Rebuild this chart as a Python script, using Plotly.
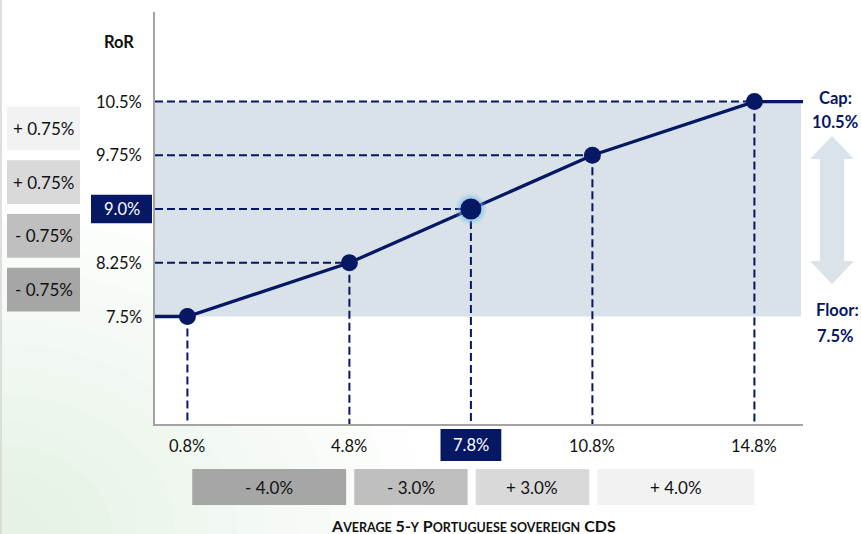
import plotly.graph_objects as go

# Average 5-y Portuguese sovereign CDS (%) and the resulting rate of return (%)
cds = [0.8, 4.8, 7.8, 10.8, 14.8]
ror = [7.5, 8.25, 9.0, 9.75, 10.5]
cds_labels = ["0.8%", "4.8%", "7.8%", "10.8%", "14.8%"]
ror_labels = ["7.5%", "8.25%", "9.0%", "9.75%", "10.5%"]
base_index = 2  # central scenario (7.8% CDS -> 9.0% RoR)

# Step sizes between neighbouring scenarios
cds_steps = ["- 4.0%", "- 3.0%", "+ 3.0%", "+ 4.0%"]
ror_steps = ["- 0.75%", "- 0.75%", "+ 0.75%", "+ 0.75%"]
step_fills = ["#A6A6A6", "#BFBFBF", "#D9D9D9", "#F2F2F2"]

cap, floor = ror[-1], ror[0]
x_range = [0, 16]
y_range = [6, 11.75]

NAVY = "#061763"
FONT = "Lato"
TXT = "#111111"

# plot area in pixels (for items placed in the margins)
W, H = 861, 534
L, R, T, B = 155, 803, 12, 424
def px(x):
    return (x - L) / (R - L)
def py(y):
    return (B - y) / (B - T)

fig = go.Figure()

# dashed guide lines from each point to both axes
gx, gy = [], []
for i, (c, r) in enumerate(zip(cds, ror)):
    if i > 0:
        gx += [x_range[0], c, None]
        gy += [r, r, None]
    gx += [c, c, None]
    gy += [r, y_range[0], None]
fig.add_trace(go.Scatter(x=gx, y=gy, mode="lines",
                         line=dict(color=NAVY, width=2, dash="8px,4px"),
                         hoverinfo="skip", showlegend=False))

# floor / cap plateau plus the linear section
lx = [x_range[0]] + cds + [x_range[1]]
ly = [floor] + ror + [cap]
fig.add_trace(go.Scatter(x=lx, y=ly, mode="lines",
                         line=dict(color=NAVY, width=3.3),
                         hoverinfo="skip", showlegend=False))

# glow around the central scenario
for size, alpha in [(31, 0.18), (26, 0.35)]:
    fig.add_trace(go.Scatter(x=[cds[base_index]], y=[ror[base_index]], mode="markers",
                             marker=dict(size=size, color=f"rgba(110,185,235,{alpha})",
                                         opacity=1, line=dict(width=0)),
                             hoverinfo="skip", showlegend=False))

sizes = [21 if i == base_index else 17 for i in range(len(cds))]
fig.add_trace(go.Scatter(x=cds, y=ror, mode="markers",
                         marker=dict(size=sizes, color=NAVY, opacity=1, line=dict(width=0)),
                         showlegend=False))

shapes = []
# soft green wash in the lower-left corner
n = 13
for k in range(n):
    rad = 40 + k * 25
    shapes.append(dict(type="circle", xref="paper", yref="paper", layer="below",
                       x0=px(-rad * 1.25), x1=px(rad * 1.25), y0=py(H - rad), y1=py(H + rad),
                       fillcolor="rgba(150,210,175,0.022)", line=dict(width=0)))
# white plot area on top of the wash
shapes.append(dict(type="rect", xref="paper", yref="paper", layer="below",
                   x0=0, x1=1, y0=0, y1=1, fillcolor="white", line=dict(width=0)))
# faint page edge
shapes.append(dict(type="line", xref="paper", yref="paper", layer="below",
                   x0=px(1), x1=px(1), y0=py(0), y1=py(H), line=dict(color="#D4D4D4", width=1.5)))

# collar band between floor and cap
shapes.append(dict(type="rect", xref="x", yref="y", layer="below",
                   x0=x_range[0], x1=15.95, y0=floor, y1=cap,
                   fillcolor="#D9E2E9", line=dict(width=0)))

annotations = []

# RoR step boxes on the left, between neighbouring tick levels
for j in range(len(ror_steps)):
    mid = (ror[j] + ror[j + 1]) / 2
    half = 0.305
    shapes.append(dict(type="rect", xref="paper", yref="y",
                       x0=px(7), x1=px(80), y0=mid - half, y1=mid + half,
                       fillcolor=step_fills[j], line=dict(width=0)))
    annotations.append(dict(xref="paper", yref="y", x=px(43.5), y=mid, text=ror_steps[j],
                            showarrow=False, xanchor="center", yanchor="middle",
                            font=dict(family=FONT, size=17, color=TXT)))

# CDS step boxes below the axis
for j in range(len(cds_steps)):
    x0 = cds[j] + 0.12
    x1 = cds[j + 1] - (0.0 if j == len(cds_steps) - 1 else 0.08)
    shapes.append(dict(type="rect", xref="x", yref="paper",
                       x0=x0, x1=x1, y0=py(505), y1=py(469),
                       fillcolor=step_fills[j], line=dict(width=0)))
    annotations.append(dict(xref="x", yref="paper", x=(x0 + x1) / 2, y=py(487), text=cds_steps[j],
                            showarrow=False, xanchor="center", yanchor="middle",
                            font=dict(family=FONT, size=17, color=TXT)))

# y tick labels
for i, (r, lab) in enumerate(zip(ror, ror_labels)):
    if i == base_index:
        shapes.append(dict(type="rect", xref="paper", yref="y",
                           x0=px(91), x1=px(152), y0=r - 0.2, y1=r + 0.2,
                           fillcolor=NAVY, line=dict(width=0)))
        annotations.append(dict(xref="paper", yref="y", x=px(121.5), y=r, text=lab,
                                showarrow=False, xanchor="center", yanchor="middle",
                                font=dict(family=FONT, size=16.5, color="white")))
    else:
        annotations.append(dict(xref="paper", yref="y", x=px(144), y=r, text=lab,
                                showarrow=False, xanchor="right", yanchor="middle",
                                font=dict(family=FONT, size=16.5, color=TXT)))

# x tick labels
for i, (c, lab) in enumerate(zip(cds, cds_labels)):
    if i == base_index:
        shapes.append(dict(type="rect", xref="x", yref="paper",
                           x0=c - 0.75, x1=c + 0.75, y0=py(461), y1=py(429),
                           fillcolor=NAVY, line=dict(width=0)))
        annotations.append(dict(xref="x", yref="paper", x=c, y=py(445), text=lab,
                                showarrow=False, xanchor="center", yanchor="middle",
                                font=dict(family=FONT, size=16.5, color="white")))
    else:
        annotations.append(dict(xref="x", yref="paper", x=c, y=py(446), text=lab,
                                showarrow=False, xanchor="center", yanchor="middle",
                                font=dict(family=FONT, size=16.5, color=TXT)))

# axis titles
annotations.append(dict(xref="paper", yref="paper", x=px(119), y=py(42), text="<b>RoR</b>",
                        showarrow=False, xanchor="center", yanchor="middle",
                        font=dict(family=FONT, size=16.5, color=TXT)))
sc = "font-size:12.5px"
title = (f"<b>A<span style='{sc}'>VERAGE</span> 5-<span style='{sc}'>Y</span> "
         f"P<span style='{sc}'>ORTUGUESE SOVEREIGN</span> CDS</b>")
annotations.append(dict(xref="paper", yref="paper", x=px(473), y=py(525), text=title,
                        showarrow=False, xanchor="center", yanchor="middle",
                        font=dict(family=FONT, size=16, color=TXT)))

# cap / floor labels and the range arrow
for txt, cx, cy in [("Cap:", 836, 98), (f"{cap}%", 835, 122), ("Floor:", 837, 310), (f"{floor}%", 836, 336)]:
    annotations.append(dict(xref="paper", yref="paper", x=px(cx), y=py(cy), text=f"<b>{txt}</b>",
                            showarrow=False, xanchor="center", yanchor="middle",
                            font=dict(family=FONT, size=16.5, color=NAVY)))
arrow_pts = [(832, 136), (854, 159), (844, 159), (844, 261), (854, 261), (832, 284),
             (810, 261), (820, 261), (820, 159), (810, 159)]
path = "M " + " L ".join(f"{px(a):.5f},{py(b):.5f}" for a, b in arrow_pts) + " Z"
shapes.append(dict(type="path", xref="paper", yref="paper", path=path,
                   fillcolor="#DAE3EA", line=dict(width=0)))

fig.update_layout(
    width=W, height=H,
    margin=dict(l=L, r=W - R, t=T, b=H - B),
    paper_bgcolor="white", plot_bgcolor="rgba(0,0,0,0)",
    shapes=shapes, annotations=annotations,
    xaxis=dict(range=x_range, showgrid=False, zeroline=False, showticklabels=False, ticks="",
               showline=True, linecolor="#A3A3A3", linewidth=2),
    yaxis=dict(range=y_range, showgrid=False, zeroline=False, showticklabels=False, ticks="",
               showline=True, linecolor="#A3A3A3", linewidth=2),
    showlegend=False,
)

fig.write_html("out.html")
